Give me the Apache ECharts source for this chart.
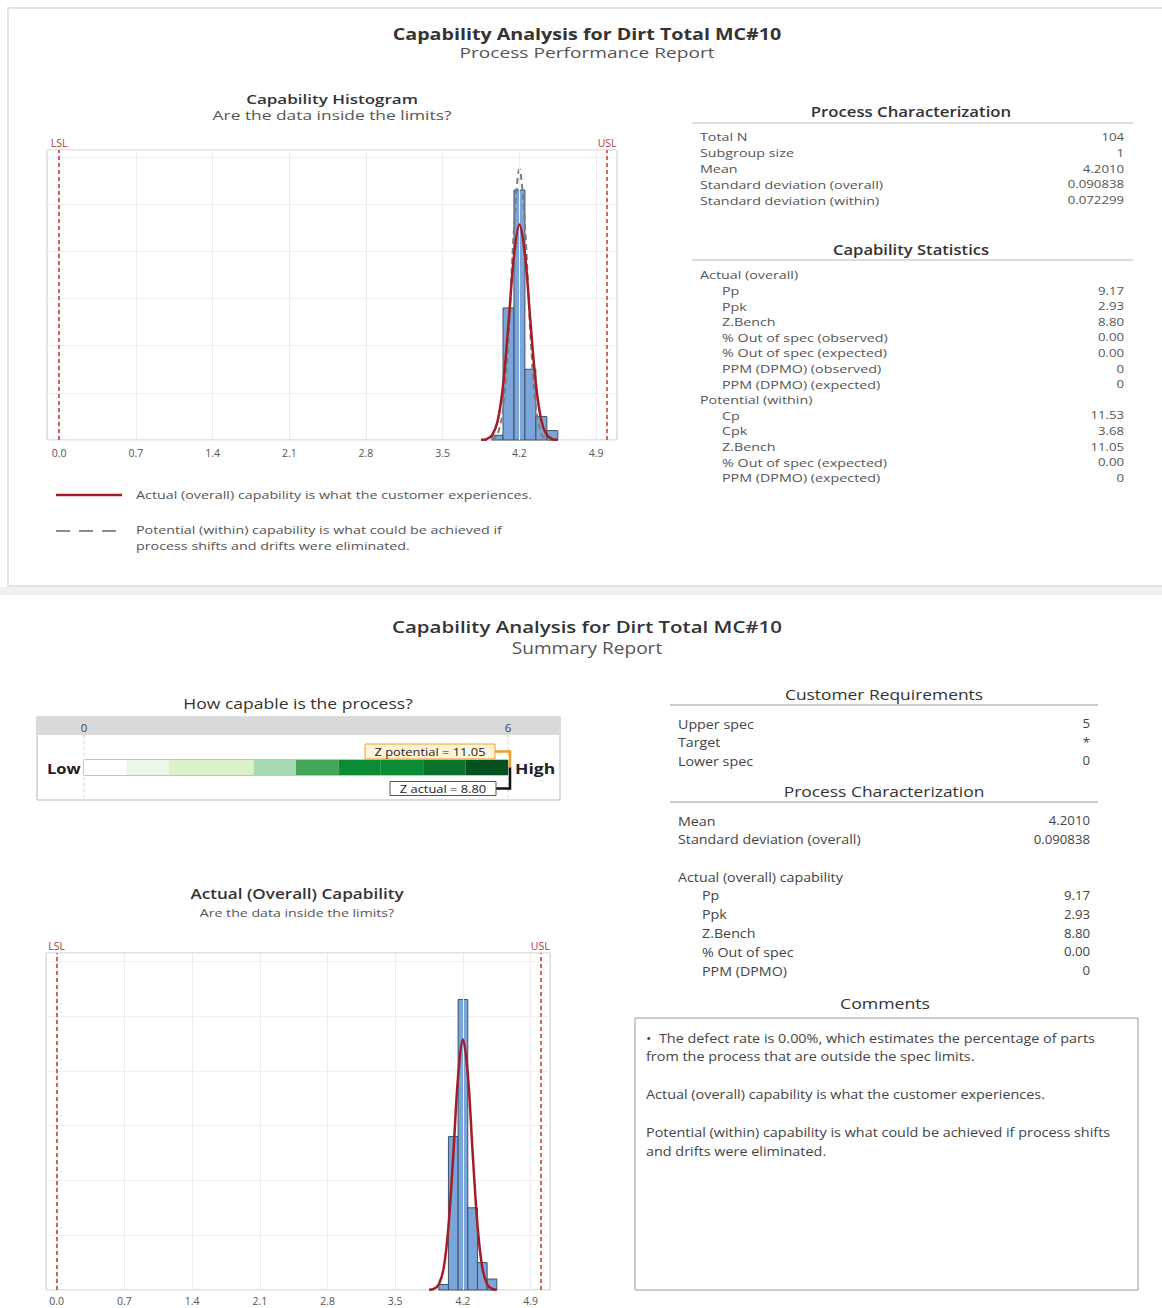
<!DOCTYPE html>
<html><head><meta charset="utf-8">
<script src="https://cdn.jsdelivr.net/npm/echarts@6/dist/echarts.min.js"></script>
<style>html,body{margin:0;padding:0;background:#fff}#c{width:1162px;height:1308px}</style>
</head><body><div id="c"></div>
<script>
// ---------- data ----------
const binCenters = [4.0, 4.1, 4.2, 4.3, 4.4, 4.5];
const binCounts = [1, 28, 53, 15, 5, 2];
const binWidth = 0.1;
const curveX = [3.85, 3.90, 3.95, 4.00, 4.05, 4.10, 4.15, 4.20, 4.25, 4.30, 4.35, 4.40, 4.45, 4.50, 4.55];
const overallCurve = [0.03, 0.19, 1.0, 3.9, 11.5, 24.6, 39.0, 45.7, 39.5, 25.2, 11.9, 4.1, 1.06, 0.2, 0.03];
const withinCurve = [0, 0, 0.14, 1.2, 6.5, 21.6, 44.7, 57.4, 45.6, 22.5, 6.9, 1.3, 0.15, 0, 0];
const xTicks = [0.0, 0.7, 1.4, 2.1, 2.8, 3.5, 4.2, 4.9];
const yGridStep = 10;
const specValues = [0, 5];
const specNames = ['LSL', 'USL'];

const gaugeEdges = [0, 0.6, 1.2, 1.8, 2.4, 3.0, 3.6, 4.2, 4.8, 5.4, 6.0];
const gaugeColors = ['#ffffff', '#eef7ec', '#dbf2c6', '#dbf2c6', '#a7dcb2', '#43a558', '#0b8b36', '#0b8b36', '#08712b', '#055020'];
const gaugeTicks = [0, 6];
const zPotential = 11.05;
const zActual = 8.80;

const pcLabels = ['Total N', 'Subgroup size', 'Mean', 'Standard deviation (overall)', 'Standard deviation (within)'];
const pcValues = ['104', '1', '4.2010', '0.090838', '0.072299'];
const csLabels = ['Actual (overall)', 'Pp', 'Ppk', 'Z.Bench', '% Out of spec (observed)', '% Out of spec (expected)', 'PPM (DPMO) (observed)', 'PPM (DPMO) (expected)', 'Potential (within)', 'Cp', 'Cpk', 'Z.Bench', '% Out of spec (expected)', 'PPM (DPMO) (expected)'];
const csValues = ['', '9.17', '2.93', '8.80', '0.00', '0.00', '0', '0', '', '11.53', '3.68', '11.05', '0.00', '0'];
const csIndent = [0, 1, 1, 1, 1, 1, 1, 1, 0, 1, 1, 1, 1, 1];

const crLabels = ['Upper spec', 'Target', 'Lower spec'];
const crValues = ['5', '*', '0'];
const pc2Labels = ['Mean', 'Standard deviation (overall)'];
const pc2Values = ['4.2010', '0.090838'];
const acLabels = ['Actual (overall) capability', 'Pp', 'Ppk', 'Z.Bench', '% Out of spec', 'PPM (DPMO)'];
const acValues = ['', '9.17', '2.93', '8.80', '0.00', '0'];
const acIndent = [0, 1, 1, 1, 1, 1];
const commentParas = [
  ['\u2022  The defect rate is 0.00%, which estimates the percentage of parts', 'from the process that are outside the spec limits.'],
  ['Actual (overall) capability is what the customer experiences.'],
  ['Potential (within) capability is what could be achieved if process shifts', 'and drifts were eliminated.']
];
const legendTexts = ['Actual (overall) capability is what the customer experiences.', 'Potential (within) capability is what could be achieved if', 'process shifts and drifts were eliminated.'];

// ---------- helpers ----------
const FF = '"Open Sans", "Noto Sans", sans-serif';
function T(x, y, text, size, opts) {
  opts = opts || {};
  return {
    type: 'text', z: 50, x: x, y: y, scaleX: opts.sx || 1, scaleY: 1,
    style: {
      text: text,
      font: (opts.weight || 'normal') + ' ' + size + 'px ' + FF,
      fill: opts.color || '#555',
      align: opts.align || 'left', verticalAlign: 'middle'
    }
  };
}
function L(x1, y1, x2, y2, color, w, dash) {
  return { type: 'line', z: 40, shape: { x1: x1, y1: y1, x2: x2, y2: y2 },
    style: { stroke: color, lineWidth: w || 1, lineDash: dash || null } };
}
function R(x, y, w, h, stroke, fill, z, lw) {
  return { type: 'rect', z: z == null ? -5 : z, shape: { x: x, y: y, width: w, height: h },
    style: { stroke: stroke || null, fill: fill || 'none', lineWidth: lw || 1 } };
}

const g = [];
// panel frames
g.push(R(8, 8, 1160, 578, '#e2e2e2', 'none', -10, 2));
g.push(R(0, 587, 1162, 8, null, '#f1f1f1', -10));

// top titles
g.push(T(587, 34, 'Capability Analysis for Dirt Total MC#10', 16, { weight: 'bold', color: '#333', align: 'center', sx: 1.23 }));
g.push(T(587, 52, 'Process Performance Report', 14.5, { color: '#555', align: 'center', sx: 1.32 }));
g.push(T(332, 99, 'Capability Histogram', 12.5, { weight: '600', color: '#333', align: 'center', sx: 1.36 }));
g.push(T(332, 115.5, 'Are the data inside the limits?', 12.5, { color: '#555', align: 'center', sx: 1.39 }));

// top legend
g.push(L(56, 495, 122, 495, '#a31d24', 2.5));
g.push(T(136, 495, legendTexts[0], 11, { color: '#555', sx: 1.3 }));
g.push(L(56, 531, 122, 531, '#666', 1.5, [14, 9]));
g.push(T(136, 530, legendTexts[1], 11, { color: '#555', sx: 1.3 }));
g.push(T(136, 546, legendTexts[2], 11, { color: '#555', sx: 1.3 }));

// top tables
g.push(T(911, 112, 'Process Characterization', 13.5, { weight: '600', color: '#333', align: 'center', sx: 1.24 }));
g.push(L(692, 123, 1133, 123, '#bbb', 1));
pcLabels.forEach((l, i) => {
  const y = 137 + i * 15.8;
  g.push(T(700, y, l, 11, { sx: 1.3 }));
  g.push(T(1124, y, pcValues[i], 11, { align: 'right', sx: 1.2 }));
});
g.push(T(911, 250, 'Capability Statistics', 13.5, { weight: '600', color: '#333', align: 'center', sx: 1.23 }));
g.push(L(692, 260, 1133, 260, '#bbb', 1));
csLabels.forEach((l, i) => {
  const y = 275 + i * 15.6;
  g.push(T(700 + csIndent[i] * 22, y, l, 11, { sx: 1.3 }));
  if (csValues[i]) g.push(T(1124, y, csValues[i], 11, { align: 'right', sx: 1.2 }));
});

// bottom titles
g.push(T(587, 626, 'Capability Analysis for Dirt Total MC#10', 16.5, { weight: '600', color: '#333', align: 'center', sx: 1.24 }));
g.push(T(587, 648, 'Summary Report', 15.5, { color: '#555', align: 'center', sx: 1.23 }));
g.push(T(298, 704, 'How capable is the process?', 14.5, { color: '#333', align: 'center', sx: 1.21 }));
g.push(R(37, 717, 523, 83, '#b5b5b5', '#fff', -8));
g.push(R(38, 718, 521, 17, null, '#d9d9d9', -7));
g.push(T(47, 768, 'Low', 15, { weight: 'bold', color: '#222', sx: 1.1 }));
g.push(T(515, 768, 'High', 15, { weight: 'bold', color: '#222', sx: 1.17 }));
g.push(T(297, 893, 'Actual (Overall) Capability', 15, { weight: '600', color: '#333', align: 'center', sx: 1.14 }));
g.push(T(297, 913, 'Are the data inside the limits?', 11.5, { color: '#555', align: 'center', sx: 1.23 }));

// bottom tables
g.push(T(884, 694, 'Customer Requirements', 15, { color: '#333', align: 'center', sx: 1.16 }));
g.push(L(670, 705, 1098, 705, '#999', 1));
crLabels.forEach((l, i) => {
  const y = 724 + i * 18.5;
  g.push(T(678, y, l, 12, { color: '#444', sx: 1.19 }));
  g.push(T(1090, y, crValues[i], 12, { color: '#444', align: 'right', sx: 1.1 }));
});
g.push(T(884, 791, 'Process Characterization', 15, { color: '#333', align: 'center', sx: 1.16 }));
g.push(L(670, 802, 1098, 802, '#999', 1));
pc2Labels.forEach((l, i) => {
  const y = 821 + i * 18.5;
  g.push(T(678, y, l, 12, { color: '#444', sx: 1.19 }));
  g.push(T(1090, y, pc2Values[i], 12, { color: '#444', align: 'right', sx: 1.1 }));
});
acLabels.forEach((l, i) => {
  const y = 877 + i * 18.8;
  g.push(T(678 + acIndent[i] * 24, y, l, 12, { color: '#444', sx: 1.19 }));
  if (acValues[i]) g.push(T(1090, y, acValues[i], 12, { color: '#444', align: 'right', sx: 1.1 }));
});
g.push(T(885, 1003, 'Comments', 15, { color: '#333', align: 'center', sx: 1.18 }));
g.push(R(635, 1018, 503, 272, '#999', 'none', 10));
let cy = 1038;
commentParas.forEach((p) => {
  p.forEach((line) => { g.push(T(646, cy, line, 12, { color: '#444', sx: 1.2 })); cy += 18.5; });
  cy += 19.5;
});

// ---------- series helpers ----------
function histRender(params, api) {
  const c = api.value(0), n = api.value(1);
  const p0 = api.coord([c - binWidth / 2, n]);
  const p1 = api.coord([c + binWidth / 2, 0]);
  return { type: 'rect', shape: { x: p0[0], y: p0[1], width: p1[0] - p0[0], height: p1[1] - p0[1] },
    style: { fill: '#7aa6da', stroke: '#3f5068', lineWidth: 1 } };
}
const histData = binCenters.map((c, i) => [c, binCounts[i]]);
function xAx(grid, max, margin) {
  return {
    type: 'value', gridIndex: grid, min: -0.11, max: max, position: 'bottom',
    axisLine: { show: false }, splitLine: { show: false },
    axisTick: { show: true, customValues: xTicks, length: 3, inside: true, lineStyle: { color: '#aaa' } },
    axisLabel: { customValues: xTicks, formatter: v => v.toFixed(1), color: '#555', fontSize: 10.5, margin: margin, fontFamily: FF }
  };
}
function yAx(grid) {
  return { type: 'value', gridIndex: grid, min: 0, max: 61.5, interval: yGridStep,
    axisLine: { show: false }, axisTick: { show: false }, axisLabel: { show: false },
    splitLine: { show: true, lineStyle: { color: '#efefef', width: 1 } } };
}
function gridLinesSeries(xi) {
  return { type: 'line', xAxisIndex: xi, yAxisIndex: xi, data: [], z: 1, silent: true,
    markLine: { silent: true, symbol: 'none', label: { show: false }, animation: false,
      lineStyle: { color: '#ececec', type: 'solid', width: 1 },
      data: xTicks.map(v => ({ xAxis: v })) } };
}
function specSeries(xi) {
  return { type: 'line', xAxisIndex: xi, yAxisIndex: xi, data: [], z: 6, silent: true,
    markLine: { silent: true, symbol: 'none', animation: false,
      lineStyle: { color: '#c0392b', type: [4, 3], width: 1.5 },
      label: { show: true, position: 'end', formatter: '{b}', color: '#b03a3e', fontSize: 10.5, fontFamily: FF, distance: 2 },
      data: specValues.map((v, i) => ({ xAxis: v, name: specNames[i] })) } };
}
function curve(xi, vals, color, width, type, z) {
  return { type: 'line', xAxisIndex: xi, yAxisIndex: xi, smooth: 0.35, showSymbol: false, z: z, silent: true,
    data: curveX.map((x, i) => [x, vals[i]]), lineStyle: { color: color, width: width, type: type } };
}

const gaugeData = gaugeColors.map((c, i) => [gaugeEdges[i], gaugeEdges[i + 1], i]);
const zData = [[Math.min(zPotential, 6), 0, zPotential], [Math.min(zActual, 6), 1, zActual]];

const option = {
  animation: false,
  textStyle: { fontFamily: FF },
  grid: [
    { left: 47, top: 150, width: 570, height: 290, show: true, borderColor: '#c8c8c8', borderWidth: 1 },
    { left: 46, top: 953, width: 504, height: 337, show: true, borderColor: '#c8c8c8', borderWidth: 1 },
    { left: 84, top: 760, width: 424, height: 15, show: true, borderColor: '#8a8a8a', borderWidth: 1 }
  ],
  xAxis: [
    xAx(0, 5.09, 7),
    xAx(1, 5.1, 5),
    { type: 'value', gridIndex: 2, min: 0, max: 6, position: 'top',
      axisLine: { show: false }, axisTick: { show: false }, splitLine: { show: false },
      axisLabel: { customValues: gaugeTicks, color: '#444', fontSize: 11.5, margin: 27, fontFamily: FF } }
  ],
  yAxis: [yAx(0), yAx(1), { type: 'value', gridIndex: 2, min: 0, max: 1, show: false }],
  graphic: { elements: g },
  series: [
    gridLinesSeries(0),
    { type: 'custom', xAxisIndex: 0, yAxisIndex: 0, renderItem: histRender, data: histData, encode: { x: 0, y: 1 }, z: 3 },
    curve(0, withinCurve, '#7d7d7d', 2, [6, 4], 4),
    curve(0, overallCurve, '#a31d24', 2.5, 'solid', 5),
    specSeries(0),
    gridLinesSeries(1),
    { type: 'custom', xAxisIndex: 1, yAxisIndex: 1, renderItem: histRender, data: histData, encode: { x: 0, y: 1 }, z: 3 },
    curve(1, overallCurve, '#a31d24', 2.5, 'solid', 5),
    specSeries(1),
    { type: 'custom', xAxisIndex: 2, yAxisIndex: 2, data: gaugeData, z: 2, encode: { x: [0, 1] },
      renderItem: function (params, api) {
        const p0 = api.coord([api.value(0), 1]);
        const p1 = api.coord([api.value(1), 0]);
        return { type: 'rect', shape: { x: p0[0], y: p0[1], width: p1[0] - p0[0], height: p1[1] - p0[1] },
          style: { fill: gaugeColors[api.value(2)] } };
      } },
    { type: 'custom', xAxisIndex: 2, yAxisIndex: 2, data: gaugeTicks.map(v => [v]), z: 1, clip: false, encode: { x: 0 },
      renderItem: function (params, api) {
        const p = api.coord([api.value(0), 1]);
        return { type: 'line', shape: { x1: p[0], y1: p[1] - 25, x2: p[0], y2: p[1] + 40 },
          style: { stroke: '#cfcfcf', lineWidth: 1, lineDash: [3, 3] } };
      } },
    { type: 'custom', xAxisIndex: 2, yAxisIndex: 2, data: zData, z: 10, clip: false, encode: { x: 0 },
      renderItem: function (params, api) {
        const p = api.coord([api.value(0), 0.5]);
        const which = api.value(1);
        const val = api.value(2);
        if (which === 0) {
          const ly = p[1] - 16, bx = p[0] - 13;
          return { type: 'group', children: [
            { type: 'polyline', shape: { points: [[p[0] + 2, p[1]], [p[0] + 2, ly], [bx, ly]] }, style: { stroke: '#f0a020', lineWidth: 2.5, fill: null } },
            { type: 'rect', shape: { x: bx - 130, y: ly - 7.5, width: 130, height: 15 }, style: { fill: '#fff4d9', stroke: '#f0a020', lineWidth: 1 } },
            { type: 'text', x: bx - 65, y: ly, scaleX: 1.12, style: { text: 'Z potential = ' + val.toFixed(2), font: '11.5px ' + FF, fill: '#222', align: 'center', verticalAlign: 'middle' } }
          ] };
        } else {
          const ly = p[1] + 21, bx = p[0] - 12;
          return { type: 'group', children: [
            { type: 'polyline', shape: { points: [[p[0] + 2, p[1]], [p[0] + 2, ly], [bx, ly]] }, style: { stroke: '#111', lineWidth: 2.5, fill: null } },
            { type: 'rect', shape: { x: bx - 106, y: ly - 7, width: 106, height: 14 }, style: { fill: '#fff', stroke: '#555', lineWidth: 1 } },
            { type: 'text', x: bx - 53, y: ly, scaleX: 1.12, style: { text: 'Z actual = ' + val.toFixed(2), font: '11.5px ' + FF, fill: '#222', align: 'center', verticalAlign: 'middle' } }
          ] };
        }
      } }
  ]
};
const chart = echarts.init(document.getElementById('c'), null, { renderer: 'svg', width: 1162, height: 1308 });
chart.setOption(option);
</script>
</body></html>
